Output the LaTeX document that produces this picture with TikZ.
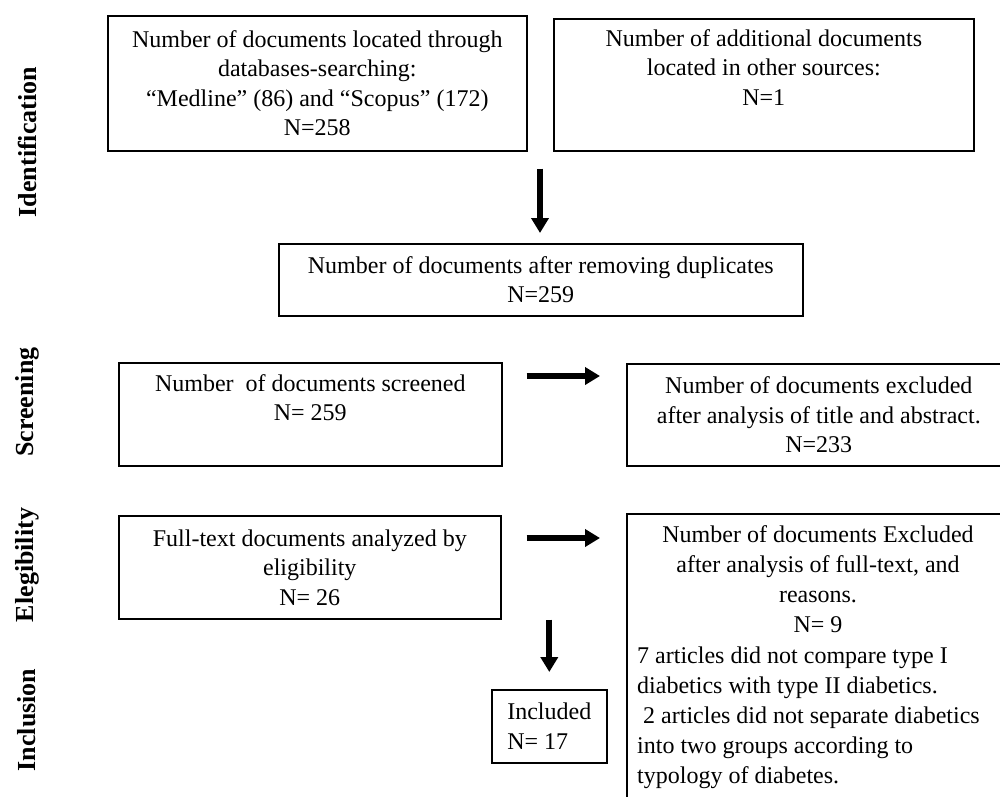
\documentclass[tikz,border=0pt]{standalone}
\usepackage{fontspec}
\setmainfont{Liberation Serif}
\usetikzlibrary{arrows.meta}
\begin{document}
\begin{tikzpicture}[x=1pt,y=-1pt,
  box/.style={draw, line width=1.6pt, anchor=north west, inner sep=0pt, align=center,
    font=\fontsize{24}{29.5}\selectfont},
  txt/.style={inner sep=0pt, font=\fontsize{24}{30}\selectfont},
  bigarrow/.style={line width=6pt, -{Triangle[width=17pt,length=15pt]}},
  phase/.style={rotate=90, inner sep=0pt, font=\fontsize{26}{30}\selectfont\bfseries}]
\useasboundingbox (0,0) rectangle (1000,796);
\fill[white] (0,0) rectangle (1000,796);

% phase labels
\node[phase] (pI) at (27,142) {Identification};
\node[phase] (pS) at (27,402) {Screening};
\node[phase] (pE) at (27,565) {Elegibility};
\node[phase] (pN) at (27,720) {Inclusion};

% boxes
\node[box, minimum width=419, minimum height=135] (A) at (107,15)
  {Number of documents located through\\ databases-searching:\\ “Medline” (86) and “Scopus” (172)\\ N=258};
\node[box, minimum width=420, minimum height=132] (B) at (553,18)
  {Number of additional documents\\ located in other sources:\\ N=1\\[-3pt] \strut};
\node[box, minimum width=524, minimum height=72] (C) at (278,243)
  {Number of documents after removing duplicates\\ N=259};
\node[box, minimum width=383, minimum height=103] (D) at (118,362)
  {Number\ \ of documents screened\\ N= 259\\[-5pt] \strut};
\node[box, minimum width=384, minimum height=102] (E) at (626,363)
  {Number of documents excluded\\ after analysis of title and abstract.\\ N=233};
\node[box, minimum width=382, minimum height=103] (F) at (118,515)
  {Full-text documents analyzed by\\ eligibility\\ N= 26};
\node[box, minimum width=384, minimum height=320] (G) at (626,513) {};
\node[txt, anchor=north, align=center] (Gc) at (818,525)
  {Number of documents Excluded\\ after analysis of full-text, and\\ reasons.\\ N= 9};
\node[txt, anchor=north west, align=left] (Gl) at (637,647)
  {7 articles did not compare type I\\ diabetics with type II diabetics.\\ \ 2 articles did not separate diabetics\\ into two groups according to\\ typology of diabetes.};
\node[box, minimum width=115, minimum height=73, align=left] (H) at (491,689)
  {Included\\ N= 17};

% arrows
\path (540,0) coordinate (ax);
\path (ax |- A.south) coordinate (a1top);
\draw[bigarrow] ([yshift=-17pt]a1top) -- ([yshift=10pt]a1top |- C.north);
\draw[bigarrow] ([xshift=24pt,yshift=-14pt]D.north east) -- ([xshift=-26pt,yshift=-13pt]E.north west);
\draw[bigarrow] ([xshift=25pt,yshift=-23pt]F.north east) -- ([xshift=-26pt,yshift=-25pt]G.north west);
\draw[bigarrow] (H.north |- F.south) -- ([yshift=17pt]H.north);
\end{tikzpicture}
\end{document}
